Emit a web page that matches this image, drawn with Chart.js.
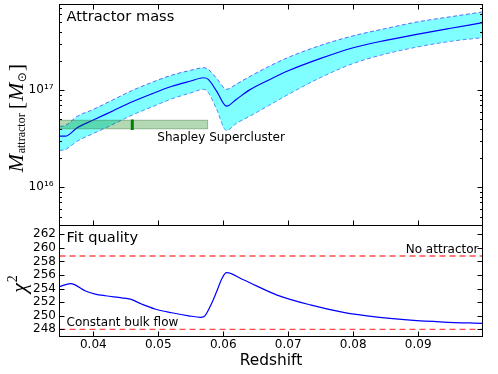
<!DOCTYPE html>
<html><head><meta charset="utf-8">
<script src="https://cdn.jsdelivr.net/npm/chart.js@4.4.0/dist/chart.umd.min.js"></script>
<style>
html,body{margin:0;padding:0;background:#fff;}
#wrap{position:relative;width:498px;height:374px;overflow:hidden;background:#fff}
canvas{position:absolute;left:0}
#cA{top:0}
#cB{top:225px}
</style></head><body>
<div id="wrap"><canvas id="cA" width="498" height="226" style="width:498px;height:226px"></canvas><canvas id="cB" width="498" height="149" style="width:498px;height:149px"></canvas></div>
<script>
// ---- data ----
const redshiftMass = [0.0348, 0.0357, 0.0375, 0.040, 0.043, 0.046, 0.049, 0.052, 0.055, 0.057, 0.0577, 0.059, 0.0605, 0.062, 0.064, 0.067, 0.070, 0.075, 0.080, 0.085, 0.090, 0.095, 0.0999];
const massBest  = [3.36e16, 3.36e16, 4.09e16, 4.92e16, 6.11e16, 7.59e16, 9.16e16, 1.09e17, 1.24e17, 1.34e17, 1.29e17, 9.72e16, 6.84e16, 8.02e16, 1.0e17, 1.27e17, 1.58e17, 2.12e17, 2.73e17, 3.25e17, 3.77e17, 4.33e17, 4.94e17];
const massUpper = [4.23e16, 4.33e16, 5.36e16, 6.33e16, 7.93e16, 9.93e16, 1.20e17, 1.42e17, 1.60e17, 1.70e17, 1.63e17, 1.32e17, 1.02e17, 1.15e17, 1.37e17, 1.75e17, 2.17e17, 2.89e17, 3.62e17, 4.30e17, 5.05e17, 5.69e17, 6.37e17];
const massLower = [2.40e16, 2.45e16, 2.98e16, 3.58e16, 4.43e16, 5.55e16, 6.71e16, 8.11e16, 9.35e16, 1.02e17, 9.47e16, 6.33e16, 3.85e16, 4.54e16, 5.36e16, 6.95e16, 9.03e16, 1.35e17, 1.88e17, 2.36e17, 2.79e17, 3.18e17, 3.47e17];
const shapleyRedshiftRange = [0.034, 0.0576];
const shapleyMassRange = [4.0e16, 4.9e16];
const shapleyRedshift = 0.046;
const shapleyMassErr = [3.9e16, 5.0e16];

const redshiftChi2 = [0.0348, 0.0365, 0.0372, 0.0388, 0.0403, 0.0419, 0.0444, 0.0457, 0.0475, 0.0495, 0.0521, 0.0547, 0.0565, 0.0570, 0.0580, 0.0590, 0.0598, 0.0605, 0.0631, 0.0683, 0.0734, 0.0785, 0.0837, 0.0888, 0.0939, 0.0999];
const chi2Values   = [254.3, 254.75, 254.55, 253.65, 253.2, 252.95, 252.65, 252.45, 251.7, 251.0, 250.45, 250.0, 249.78, 249.86, 251.4, 253.6, 255.5, 256.35, 255.3, 253.05, 251.6, 250.5, 249.8, 249.35, 249.08, 248.88];
const chi2NoAttractor = 258.8;
const chi2BulkFlow = 248.0;

const xTickValues = [0.04, 0.05, 0.06, 0.07, 0.08, 0.09];
const massTickValues = [1e16, 1e17];
const chi2TickValues = [248, 250, 252, 254, 256, 258, 260, 262];
const xRange = [0.0348, 0.0999];
const massRange = [4.05e15, 7.6e17];
const chi2Range = [246.95, 263.3];

// ---- helpers ----
const pts = (xs, ys) => xs.map((x, i) => ({x, y: ys[i]}));
const SUP = {'0':'⁰','1':'¹','2':'²','3':'³','4':'⁴','5':'⁵','6':'⁶','7':'⁷','8':'⁸','9':'⁹'};
const FONT = "'DejaVu Sans', sans-serif";
function noPad(s) { s.paddingTop = 0; s.paddingBottom = 0; s.paddingLeft = 0; s.paddingRight = 0; }

function frameAndTicks(kind) {
  return {
    id: 'frameTicks' + kind,
    afterDraw(chart) {
      const {ctx, chartArea: a, scales} = chart;
      const sx = scales.x, sy = scales.y;
      ctx.save();
      ctx.strokeStyle = '#000';
      ctx.lineWidth = 1;
      ctx.beginPath();
      xTickValues.forEach(v => {
        const p = Math.round(sx.getPixelForValue(v)) + 0.5;
        if (kind === 'log') { ctx.moveTo(p, a.top); ctx.lineTo(p, a.top + 5); }
        ctx.moveTo(p, a.bottom); ctx.lineTo(p, a.bottom - 5);
      });
      if (kind === 'log') {
        const e0 = Math.floor(Math.log10(sy.min)), e1 = Math.ceil(Math.log10(sy.max));
        for (let e = e0; e <= e1; e++) {
          for (let k = 1; k <= 9; k++) {
            const v = k * Math.pow(10, e);
            if (v < sy.min || v > sy.max) continue;
            const p = Math.round(sy.getPixelForValue(v)) + 0.5;
            const len = k === 1 ? 5 : 2.5;
            ctx.moveTo(a.left, p); ctx.lineTo(a.left + len, p);
            ctx.moveTo(a.right, p); ctx.lineTo(a.right - len, p);
          }
        }
      } else {
        chi2TickValues.forEach(v => {
          const p = Math.round(sy.getPixelForValue(v)) + 0.5;
          ctx.moveTo(a.left, p); ctx.lineTo(a.left + 5, p);
          ctx.moveTo(a.right, p); ctx.lineTo(a.right - 5, p);
        });
      }
      ctx.stroke();
      ctx.strokeRect(a.left, a.top, a.right - a.left, a.bottom - a.top);
      ctx.restore();
    }
  };
}

function drawPieces(ctx, pieces) {
  let total = 0;
  pieces.forEach(p => { ctx.font = p.font; p.w = ctx.measureText(p.t).width; total += p.w + (p.gap || 0); });
  let u = -total / 2;
  pieces.forEach(p => {
    ctx.font = p.font;
    ctx.fillText(p.t, u, p.dy || 0);
    u += p.w + (p.gap || 0);
  });
}

const textA = {
  id: 'textA',
  afterDraw(chart) {
    const ctx = chart.ctx;
    ctx.save();
    ctx.fillStyle = '#000';
    ctx.textBaseline = 'alphabetic';
    ctx.textAlign = 'left';
    ctx.font = '14.6px ' + FONT;
    ctx.fillText('Attractor mass', 66.5, 20.7);
    ctx.font = '12px ' + FONT;
    ctx.fillText('Shapley Supercluster', 157.3, 141);
    // y label
    ctx.translate(22.7, 118);
    ctx.rotate(-Math.PI / 2);
    drawPieces(ctx, [
      {t: 'M', font: "italic 22px 'Liberation Serif', serif", gap: 0.5},
      {t: 'attractor', font: "12px 'Liberation Serif', serif", dy: 2.3, gap: 4},
      {t: '[', font: "22px 'Liberation Serif', serif", gap: 1},
      {t: 'M', font: "italic 22px 'Liberation Serif', serif", gap: 0.5},
      {t: '⊙', font: "12px 'DejaVu Sans', sans-serif", dy: 3, gap: 1},
      {t: ']', font: "22px 'Liberation Serif', serif"}
    ]);
    ctx.restore();
  }
};

const textB = {
  id: 'textB',
  afterDraw(chart) {
    const ctx = chart.ctx;
    ctx.save();
    ctx.fillStyle = '#000';
    ctx.textBaseline = 'alphabetic';
    ctx.textAlign = 'left';
    ctx.font = '14.6px ' + FONT;
    ctx.fillText('Fit quality', 66.5, 16.7);
    ctx.font = '12px ' + FONT;
    ctx.fillText('Constant bulk flow', 66.5, 101);
    ctx.textAlign = 'right';
    ctx.fillText('No attractor', 478.5, 27.7);
    ctx.textAlign = 'center';
    ctx.font = '15.4px ' + FONT;
    ctx.fillText('Redshift', (chart.chartArea.left + chart.chartArea.right) / 2, 140);
    ctx.textAlign = 'left';
    ctx.translate(26, 59);
    ctx.rotate(-Math.PI / 2);
    drawPieces(ctx, [
      {t: 'χ', font: "italic 22px 'Liberation Serif', serif", gap: 1},
      {t: '2', font: "14px 'Liberation Serif', serif", dy: -9}
    ]);
    ctx.restore();
  }
};

const common = {
  animation: false,
  responsive: false,
  devicePixelRatio: 1,
  plugins: {legend: {display: false}, tooltip: {enabled: false}, title: {display: false}},
  elements: {point: {radius: 0}, line: {cubicInterpolationMode: 'monotone'}}
};

// ---- top chart ----
new Chart(document.getElementById('cA'), {
  type: 'line',
  data: {
    datasets: [
      {data: pts([shapleyRedshift, shapleyRedshift], shapleyMassErr), borderColor: '#008000', borderWidth: 3, fill: false, borderCapStyle: 'butt'},
      {data: pts([shapleyRedshiftRange[0], shapleyRedshiftRange[1], shapleyRedshiftRange[1], shapleyRedshiftRange[0], shapleyRedshiftRange[0]],
                 [shapleyMassRange[0], shapleyMassRange[0], shapleyMassRange[1], shapleyMassRange[1], shapleyMassRange[0]]),
       borderColor: 'rgba(60,110,60,0.45)', borderWidth: 1, backgroundColor: 'rgba(0,128,0,0.3)', fill: 'shape', cubicInterpolationMode: 'default', tension: 0},
      {data: pts(redshiftMass, massBest), borderColor: '#0000ff', borderWidth: 1.2, fill: false},
      {data: pts(redshiftMass, massUpper), borderColor: 'rgba(40,40,255,0.7)', borderWidth: 1, borderDash: [4, 2.5], fill: '+1', backgroundColor: 'rgba(0,255,255,0.5)'},
      {data: pts(redshiftMass, massLower), borderColor: 'rgba(40,40,255,0.7)', borderWidth: 1, borderDash: [4, 2.5], fill: false}
    ]
  },
  options: Object.assign({}, common, {
    layout: {autoPadding: false, padding: {top: 4.5, right: 15.5, bottom: 0.5, left: 0}},
    scales: {
      x: {type: 'linear', min: xRange[0], max: xRange[1], display: false},
      y: {
        type: 'logarithmic', min: massRange[0], max: massRange[1],
        afterFit(s) { s.width = 59.5; noPad(s); },
        afterBuildTicks(s) { s.ticks = massTickValues.map(v => ({value: v, major: true})); },
        grid: {display: false, drawTicks: false},
        border: {display: false},
        ticks: {
          autoSkip: false, padding: 6, color: '#000', font: {family: FONT, size: 12},
          callback: v => '10' + String(Math.round(Math.log10(v))).split('').map(c => SUP[c]).join('')
        }
      }
    }
  }),
  plugins: [frameAndTicks('log'), textA]
});

// ---- bottom chart ----
new Chart(document.getElementById('cB'), {
  type: 'line',
  data: {
    datasets: [
      {data: pts(redshiftChi2, chi2Values), borderColor: '#0000ff', borderWidth: 1.2, fill: false},
      {data: pts(xRange, [chi2NoAttractor, chi2NoAttractor]), borderColor: 'rgba(255,0,0,0.7)', borderWidth: 1.4, borderDash: [6, 4], fill: false},
      {data: pts(xRange, [chi2BulkFlow, chi2BulkFlow]), borderColor: 'rgba(255,0,0,0.7)', borderWidth: 1.4, borderDash: [6, 4], fill: false}
    ]
  },
  options: Object.assign({}, common, {
    layout: {autoPadding: false, padding: {top: 0.5, right: 15.5, bottom: 0, left: 0}},
    scales: {
      x: {
        type: 'linear', min: xRange[0], max: xRange[1],
        afterFit(s) { s.height = 37.5; noPad(s); },
        afterBuildTicks(s) { s.ticks = xTickValues.map(v => ({value: v})); },
        grid: {display: false, drawTicks: false},
        border: {display: false},
        ticks: {autoSkip: false, maxRotation: 0, padding: 1.5, color: '#000', font: {family: FONT, size: 12}, callback: v => v.toFixed(2)}
      },
      y: {
        min: chi2Range[0], max: chi2Range[1],
        afterFit(s) { s.width = 59.5; noPad(s); },
        afterBuildTicks(s) { s.ticks = chi2TickValues.map(v => ({value: v})); },
        grid: {display: false, drawTicks: false},
        border: {display: false},
        ticks: {autoSkip: false, padding: 3.5, color: '#000', font: {family: FONT, size: 12}, callback: v => String(v)}
      }
    }
  }),
  plugins: [frameAndTicks('lin'), textB]
});
</script>
</body></html>
